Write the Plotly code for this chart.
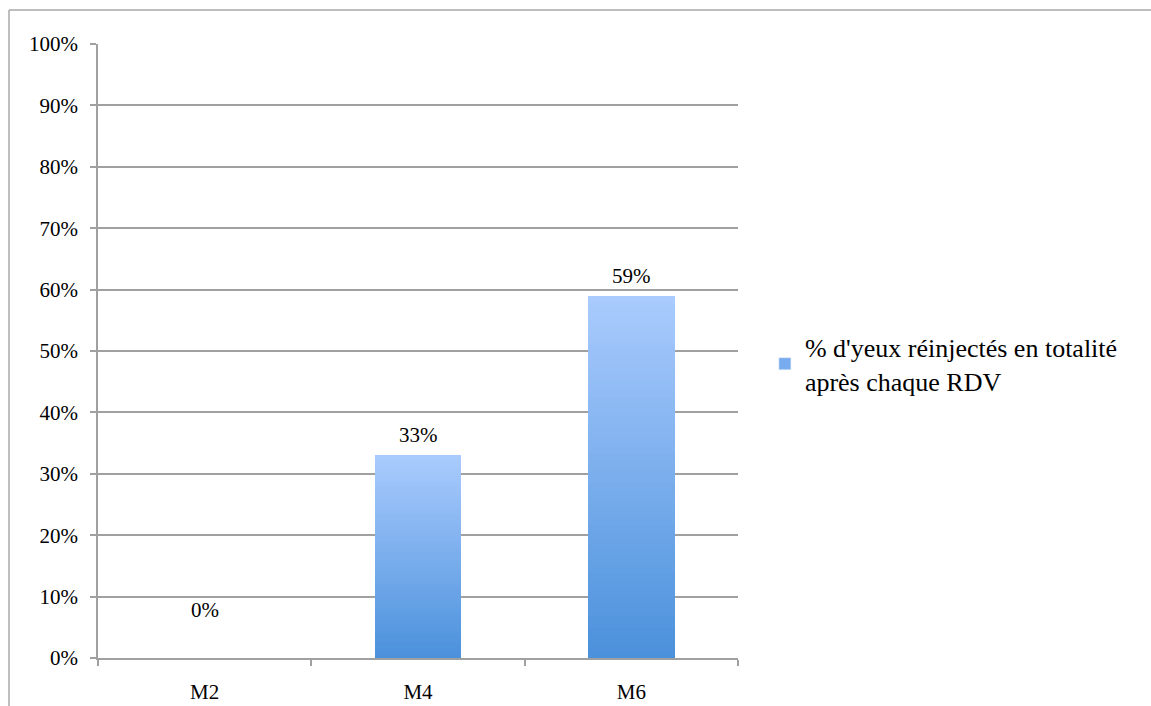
import plotly.graph_objects as go

categories = ["M2", "M4", "M6"]
values = [0.0, 0.33, 0.59]
labels = ["0%", "33%", "59%"]
series_name = "% d'yeux réinjectés en totalité<br>après chaque RDV"

FONT = "Liberation Serif, Times New Roman, serif"
FS = 21
GRID = "#a0a0a0"
TOP = (169, 203, 253)
BOTTOM = (76, 145, 220)
N = 60

def lerp(a, b, t):
    return "rgb(%d,%d,%d)" % tuple(round(a[i] + (b[i] - a[i]) * t) for i in range(3))

fig = go.Figure()
for k in range(N):
    t = k / (N - 1)  # 0 bottom -> 1 top
    fig.add_trace(go.Bar(
        x=categories,
        y=[v / N for v in values],
        marker=dict(color=lerp(BOTTOM, TOP, t), line=dict(width=0)),
        width=0.405,
        name=series_name,
        legendgroup="s",
        showlegend=False,
        hoverinfo="skip",
    ))
# legend entry
fig.add_trace(go.Bar(
    x=[None], y=[None], name=series_name,
    marker=dict(color="rgb(120,172,238)"), legendgroup="s", showlegend=True,
))

for c, v, lab in zip(categories, values, labels):
    fig.add_annotation(x=c, y=v, text=lab, showarrow=False, yanchor="middle",
                       yshift=20 if v > 0 else 48,
                       font=dict(family=FONT, size=FS, color="black"))

# outer frame
fig.add_shape(type="line", xref="paper", yref="paper",
              x0=(9 - 98) / 640, x1=(9 - 98) / 640, y0=(658 - 10) / 614, y1=-0.2,
              line=dict(color="#a8a8a8", width=1.5))
fig.add_shape(type="line", xref="paper", yref="paper",
              x0=(9 - 98) / 640, x1=1.8, y0=(658 - 10) / 614, y1=(658 - 10) / 614,
              line=dict(color="#a8a8a8", width=1.5))

fig.update_layout(
    width=1151, height=706,
    margin=dict(l=98, r=413, t=44, b=48, autoexpand=False),
    barmode="stack", bargap=0.0,
    paper_bgcolor="white", plot_bgcolor="white",
    font=dict(family=FONT, size=FS, color="black"),
    showlegend=True,
    legend=dict(x=1.042, y=0.479, xanchor="left", yanchor="middle",
                font=dict(family=FONT, size=26, color="black"),
                bgcolor="rgba(0,0,0,0)", itemclick=False),
    xaxis=dict(type="category", showline=True, linecolor=GRID, linewidth=1.5,
               ticks="outside", tickson="boundaries", ticklen=6, tickcolor=GRID,
               tickwidth=1.5, showgrid=False, ticklabelstandoff=14,
               automargin=False),
    yaxis=dict(range=[0, 1], dtick=0.1, tickformat=".0%", showline=True,
               linecolor=GRID, linewidth=1.5, showgrid=True, gridcolor=GRID,
               gridwidth=1.5, ticks="outside", ticklen=6, tickcolor=GRID,
               tickwidth=1.5, zeroline=False, ticklabelstandoff=8,
               automargin=False),
)

fig.write_html("out.html", config={"displayModeBar": False},
               post_script="document.body.style.margin='0';document.body.style.overflow='hidden';")
